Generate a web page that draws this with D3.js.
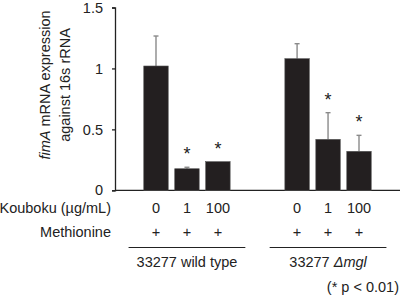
<!DOCTYPE html>
<html>
<head>
<meta charset="utf-8">
<script src="https://cdn.jsdelivr.net/npm/d3@7"></script>
<style>
  body { margin: 0; background: white; }
  text { font-family: "Liberation Sans", Arial, sans-serif; fill: #222; }
</style>
</head>
<body>
<div id="chart"></div>
<script>
// Data
const groups = ["wt", "mgl"];
const doses = ["0", "1", "100"];
const methionine = ["+", "+", "+"];
const wtMeans = [1.02, 0.177, 0.235];
const wtErrors = [0.246, 0.012, 0];
const mglMeans = [1.08, 0.418, 0.32];
const mglErrors = [0.123, 0.219, 0.131];
const wtStars = [false, true, true];
const mglStars = [false, true, true];
const yTicks = [0, 0.5, 1, 1.5];

const width = 400, height = 297;
const fs = 14.5;

const rows = [];
groups.forEach((g, gi) => {
    const means = gi === 0 ? wtMeans : mglMeans;
    const errs = gi === 0 ? wtErrors : mglErrors;
    const stars = gi === 0 ? wtStars : mglStars;
    doses.forEach((d, i) => {
        rows.push({ group: g, dose: d, mean: means[i], err: errs[i], star: stars[i] });
    });
});

const svg = d3.select("#chart")
    .append("svg")
    .attr("width", width)
    .attr("height", height);

// Scales
const x0 = d3.scaleBand()
    .domain(groups)
    .range([115, 400])
    .paddingInner(0.3)
    .paddingOuter(0.16);

const x1 = d3.scaleBand()
    .domain(doses)
    .range([0, x0.bandwidth()])
    .paddingInner(0.21)
    .paddingOuter(0.2);

const y = d3.scaleLinear()
    .domain([0, 1.5])
    .range([190.3, 7.5]);

// Y axis
const yAxis = svg.append("g")
    .attr("transform", "translate(115,0)")
    .call(d3.axisLeft(y).tickValues(yTicks).tickFormat(d3.format("")).tickSize(3).tickPadding(9));
yAxis.select(".domain").attr("stroke", "#222").attr("stroke-width", 1.3);
yAxis.selectAll(".tick line").attr("stroke", "#222").attr("stroke-width", 1.3);
yAxis.selectAll(".tick text")
    .attr("font-size", fs)
    .attr("font-family", "'Liberation Sans', Arial, sans-serif")
    .attr("fill", "#222");

// X axis line
svg.append("line")
    .attr("x1", 115)
    .attr("x2", 400)
    .attr("y1", y(0))
    .attr("y2", y(0))
    .attr("stroke", "#222")
    .attr("stroke-width", 1.3);

// Y axis title
const yTitle = svg.append("text")
    .attr("transform", "translate(0,85) rotate(-90)")
    .attr("text-anchor", "middle")
    .attr("font-size", fs);
const t1 = yTitle.append("tspan").attr("x", 0).attr("y", 50);
t1.append("tspan").attr("font-style", "italic").text("fimA");
t1.append("tspan").text(" mRNA expression");
yTitle.append("tspan").attr("x", 0).attr("y", 70).text("against 16s rRNA");

const bx = d => x0(d.group) + x1(d.dose);
const cx = d => bx(d) + x1.bandwidth() / 2;

// Error bars
const errRows = rows.filter(d => d.err > 0);
svg.append("g")
    .selectAll("line")
    .data(errRows)
    .join("line")
    .attr("x1", cx)
    .attr("x2", cx)
    .attr("y1", d => y(d.mean))
    .attr("y2", d => y(d.mean + d.err))
    .attr("stroke", "#8a8a8a")
    .attr("stroke-width", 1.4);

svg.append("g")
    .selectAll("line")
    .data(errRows)
    .join("line")
    .attr("x1", d => cx(d) - 2.5)
    .attr("x2", d => cx(d) + 2.5)
    .attr("y1", d => y(d.mean + d.err))
    .attr("y2", d => y(d.mean + d.err))
    .attr("stroke", "#8a8a8a")
    .attr("stroke-width", 1.4);

// Bars
svg.append("g")
    .selectAll("rect")
    .data(rows)
    .join("rect")
    .attr("x", bx)
    .attr("y", d => y(d.mean))
    .attr("width", x1.bandwidth())
    .attr("height", d => y(0) - y(d.mean))
    .attr("fill", "#231f20")
    .attr("stroke", "#555")
    .attr("stroke-width", 0.6);

// Significance stars
svg.append("g")
    .selectAll("text")
    .data(rows.filter(d => d.star))
    .join("text")
    .attr("x", cx)
    .attr("y", d => y(d.mean + d.err) - 7)
    .attr("text-anchor", "middle")
    .attr("font-size", 18)
    .text("*");

// Condition rows
svg.append("text")
    .attr("x", 111)
    .attr("y", 212.5)
    .attr("text-anchor", "end")
    .attr("font-size", fs)
    .text("Kouboku (µg/mL)");

svg.append("text")
    .attr("x", 111)
    .attr("y", 236.5)
    .attr("text-anchor", "end")
    .attr("font-size", fs)
    .text("Methionine");

svg.append("g")
    .selectAll("text")
    .data(rows)
    .join("text")
    .attr("x", cx)
    .attr("y", 212.5)
    .attr("text-anchor", "middle")
    .attr("font-size", fs)
    .text(d => d.dose);

svg.append("g")
    .selectAll("text")
    .data(rows)
    .join("text")
    .attr("x", cx)
    .attr("y", 236.5)
    .attr("text-anchor", "middle")
    .attr("font-size", fs)
    .text((d, i) => methionine[i % 3]);

// Group underlines and labels
svg.append("g")
    .selectAll("line")
    .data(groups)
    .join("line")
    .attr("x1", g => x0(g) - 9)
    .attr("x2", g => x0(g) + x0.bandwidth() + 9)
    .attr("y1", 247.5)
    .attr("y2", 247.5)
    .attr("stroke", "#222")
    .attr("stroke-width", 1.2);

svg.append("text")
    .attr("x", x0("wt") + x0.bandwidth() / 2)
    .attr("y", 267)
    .attr("text-anchor", "middle")
    .attr("font-size", fs)
    .text("33277 wild type");

const mglLabel = svg.append("text")
    .attr("x", x0("mgl") + x0.bandwidth() / 2)
    .attr("y", 267)
    .attr("text-anchor", "middle")
    .attr("font-size", fs);
mglLabel.append("tspan").text("33277 ");
mglLabel.append("tspan").attr("font-style", "italic").text("Δmgl");

svg.append("text")
    .attr("x", 399)
    .attr("y", 292)
    .attr("text-anchor", "end")
    .attr("font-size", fs)
    .text("(* p < 0.01)");
</script>
</body>
</html>
